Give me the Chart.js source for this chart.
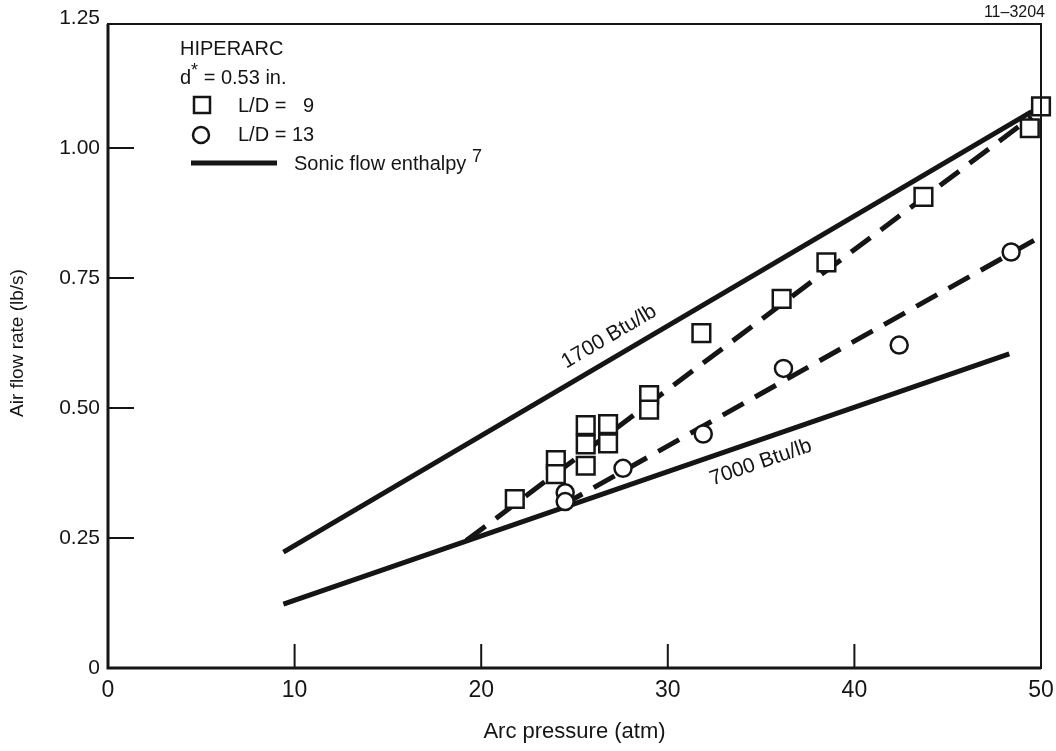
<!DOCTYPE html>
<html>
<head>
<meta charset="utf-8">
<script src="https://cdn.jsdelivr.net/npm/chart.js@4/dist/chart.umd.min.js"></script>
<style>
  html, body { margin: 0; padding: 0; background: #fff; }
  .chart-box { width: 1056px; height: 751px; }
</style>
</head>
<body>
<div class="chart-box"><canvas id="flow-chart"></canvas></div>
<script>
// L/D = 9 (squares)
const pressureLD9 = [21.8, 24.0, 24.0, 25.6, 25.6, 25.6, 26.8, 26.8, 29.0, 29.0, 31.8, 36.1, 38.5, 43.7, 49.4, 50.0];
const flowLD9 = [0.325, 0.40, 0.373, 0.467, 0.43, 0.389, 0.469, 0.432, 0.525, 0.497, 0.644, 0.71, 0.78, 0.906, 1.038, 1.08];

// L/D = 13 (circles)
const pressureLD13 = [24.5, 24.5, 27.6, 31.9, 36.2, 42.4, 48.4];
const flowLD13 = [0.337, 0.32, 0.384, 0.45, 0.576, 0.621, 0.80];

// sonic flow enthalpy lines
const sonic1700Pressure = [9.4, 49.5];
const sonic1700Flow = [0.223, 1.07];
const sonic7000Pressure = [9.4, 48.3];
const sonic7000Flow = [0.123, 0.604];

// dashed fits
const fitLD9Pressure = [19.2, 49.5];
const fitLD9Flow = [0.245, 1.06];
const fitLD13Pressure = [24.3, 50.0];
const fitLD13Flow = [0.312, 0.83];

const xTicks = [0, 10, 20, 30, 40, 50];
const yTicks = [0, 0.25, 0.5, 0.75, 1.0, 1.25];

const INK = "#151515";
const SANS = "'Liberation Sans', Arial, Helvetica, sans-serif";
const NARROW = "'Liberation Sans Narrow', 'Liberation Sans', sans-serif";

const toPoints = (xs, ys) => xs.map((v, i) => ({ x: v, y: ys[i] }));

const lineSet = (xs, ys, dashed) => ({
  type: "line",
  data: toPoints(xs, ys),
  borderColor: INK,
  borderWidth: 5,
  borderDash: dashed ? [24, 13] : [],
  pointRadius: 0,
  fill: false,
  clip: false,
});

// text with a raised part, e.g. d* or the footnote 7
function drawSup(ctx, parts, x, y, size) {
  let cx = x;
  parts.forEach(([txt, sup]) => {
    ctx.font = `${sup ? Math.round(size * 0.9) : size}px ${SANS}`;
    ctx.fillText(txt, cx, sup ? y - size * 0.35 : y);
    cx += ctx.measureText(txt).width;
  });
}

function curveLabel(chart, text, at, xs, ys, offset) {
  const { ctx, scales: { x, y } } = chart;
  const ang = Math.atan2(
    y.getPixelForValue(ys[1]) - y.getPixelForValue(ys[0]),
    x.getPixelForValue(xs[1]) - x.getPixelForValue(xs[0])
  );
  ctx.save();
  ctx.translate(x.getPixelForValue(at[0]), y.getPixelForValue(at[1]));
  ctx.rotate(ang);
  ctx.font = `21px ${SANS}`;
  ctx.textAlign = "center";
  ctx.textBaseline = "middle";
  ctx.fillText(text, 0, offset);
  ctx.restore();
}

const overlay = {
  id: "overlay",
  afterDraw(chart) {
    const { ctx, chartArea: a, scales: { x, y } } = chart;
    ctx.save();
    ctx.strokeStyle = INK;
    ctx.fillStyle = INK;

    // inward tick marks
    ctx.lineWidth = 2;
    ctx.beginPath();
    xTicks.slice(1, -1).forEach((v) => {
      const px = x.getPixelForValue(v);
      ctx.moveTo(px, a.bottom);
      ctx.lineTo(px, a.bottom - 24);
    });
    yTicks.slice(1, -1).forEach((v) => {
      const py = y.getPixelForValue(v);
      ctx.moveTo(a.left, py);
      ctx.lineTo(a.left + 26, py);
    });
    ctx.stroke();

    // frame
    ctx.lineWidth = 2;
    ctx.strokeRect(a.left, a.top + 6, a.right - a.left, a.bottom - a.top - 6);
    ctx.lineWidth = 3;
    ctx.beginPath();
    ctx.moveTo(a.left, a.top + 6);
    ctx.lineTo(a.left, a.bottom);
    ctx.lineTo(a.right, a.bottom);
    ctx.stroke();

    // legend block
    ctx.textBaseline = "middle";
    ctx.textAlign = "left";
    ctx.font = `20px ${SANS}`;
    ctx.fillText("HIPERARC", 180, 49);
    drawSup(ctx, [["d", false], ["*", true], [" = 0.53 in.", false]], 180, 78, 20);
    ctx.font = `20px ${SANS}`;
    ctx.fillText("L/D =   9", 238, 106);
    ctx.fillText("L/D = 13", 238, 135);
    drawSup(ctx, [["Sonic flow enthalpy ", false], ["7", true]], 294, 164, 20);

    ctx.lineWidth = 2.5;
    ctx.fillStyle = "#fff";
    ctx.beginPath();
    ctx.rect(194, 97, 16, 16);
    ctx.fill();
    ctx.stroke();
    ctx.beginPath();
    ctx.arc(201, 135, 8, 0, Math.PI * 2);
    ctx.fill();
    ctx.stroke();
    ctx.lineWidth = 5;
    ctx.beginPath();
    ctx.moveTo(191, 163);
    ctx.lineTo(277, 163);
    ctx.stroke();

    // figure number
    ctx.fillStyle = INK;
    ctx.font = `16px ${SANS}`;
    ctx.textAlign = "right";
    ctx.fillText("11\u20133204", 1045, 13);

    // line labels
    curveLabel(chart, "1700 Btu/lb", [27.4, 0.604], sonic1700Pressure, sonic1700Flow, -20);
    curveLabel(chart, "7000 Btu/lb", [34.6, 0.435], sonic7000Pressure, sonic7000Flow, 22);
    ctx.restore();
  },
};

const ctx = document.getElementById("flow-chart");

new Chart(ctx, {
  type: "scatter",
  data: {
    datasets: [
      {
        label: "L/D = 9",
        data: toPoints(pressureLD9, flowLD9),
        pointStyle: "rect",
        pointRadius: 12.5,
        pointBorderWidth: 2.5,
        pointBackgroundColor: "#fff",
        pointBorderColor: INK,
        clip: false,
      },
      {
        label: "L/D = 13",
        data: toPoints(pressureLD13, flowLD13),
        pointStyle: "circle",
        pointRadius: 8.5,
        pointBorderWidth: 2.5,
        pointBackgroundColor: "#fff",
        pointBorderColor: INK,
        clip: false,
      },
      lineSet(fitLD9Pressure, fitLD9Flow, true),
      lineSet(fitLD13Pressure, fitLD13Flow, true),
      lineSet(sonic1700Pressure, sonic1700Flow, false),
      lineSet(sonic7000Pressure, sonic7000Flow, false),
    ],
  },
  options: {
    responsive: true,
    maintainAspectRatio: false,
    animation: false,
    layout: { padding: { top: 18, right: 13, left: 0, bottom: 0 } },
    plugins: { legend: { display: false }, tooltip: { enabled: false } },
    scales: {
      x: {
        type: "linear",
        min: 0,
        max: 50,
        afterBuildTicks: (s) => { s.ticks = xTicks.map((v) => ({ value: v })); },
        afterFit: (s) => {
          s.height = 83;
          s.paddingLeft = 0;
          s.paddingRight = 0;
        },
        grid: { display: false, drawTicks: false },
        border: { display: false },
        ticks: {
          autoSkip: false,
          maxRotation: 0,
          padding: 9,
          color: INK,
          font: { family: NARROW, size: 23 },
        },
        title: {
          display: true,
          text: "Arc pressure (atm)",
          color: INK,
          font: { family: NARROW, size: 22 },
          padding: { top: 0, bottom: 6 },
        },
      },
      y: {
        type: "linear",
        min: 0,
        max: 1.25,
        afterBuildTicks: (s) => { s.ticks = yTicks.map((v) => ({ value: v })); },
        afterFit: (s) => {
          s.width = 108;
          s.paddingTop = 0;
          s.paddingBottom = 0;
        },
        grid: { display: false, drawTicks: false },
        border: { display: false },
        ticks: {
          padding: 8,
          color: INK,
          font: { family: SANS, size: 21 },
          callback: (v) => (v === 0 ? "0" : v.toFixed(2)),
        },
        title: {
          display: true,
          text: "Air flow rate (lb/s)",
          color: INK,
          font: { family: SANS, size: 19 },
          padding: { top: 6, bottom: 0 },
        },
      },
    },
  },
  plugins: [overlay],
});
</script>
</body>
</html>
